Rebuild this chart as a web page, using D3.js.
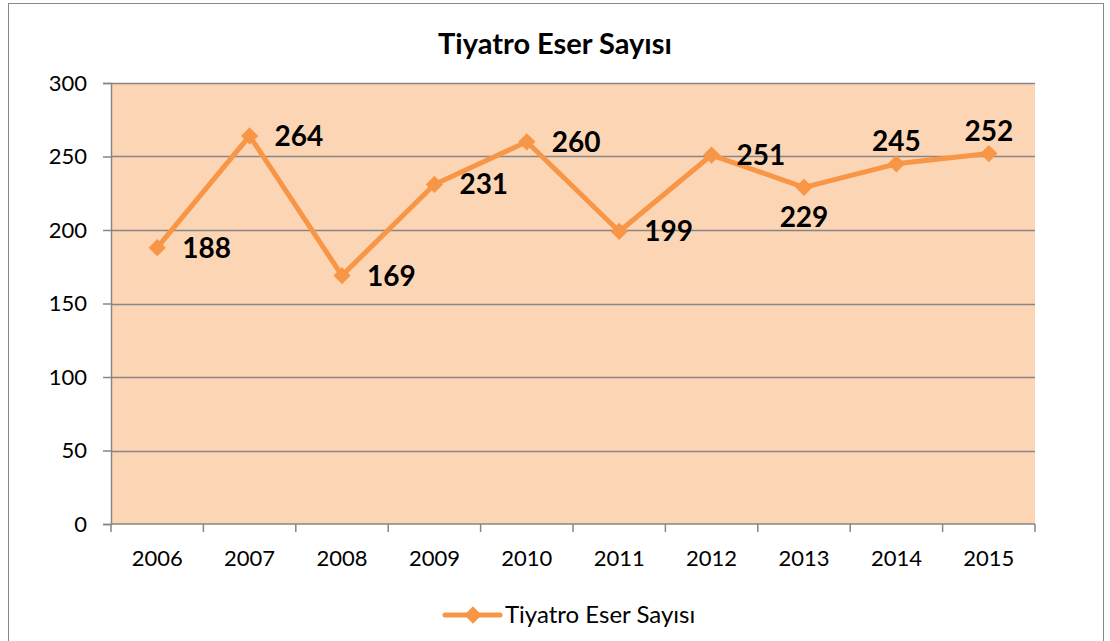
<!DOCTYPE html>
<html>
<head>
<meta charset="utf-8">
<script src="https://cdn.jsdelivr.net/npm/d3@7"></script>
<style>
  body { margin: 0; background: #fff; }
  text { font-family: Lato, "Noto Sans", sans-serif; }
</style>
</head>
<body>
<div id="chart"></div>
<script>
const WIDTH = 1110;
const HEIGHT = 641;

const title = "Tiyatro Eser Sayısı";
const years = ["2006", "2007", "2008", "2009", "2010", "2011", "2012", "2013", "2014", "2015"];
const counts = [188, 264, 169, 231, 260, 199, 251, 229, 245, 252];
// where each data label sits relative to its point
const labelSide = ["right", "right", "right", "right", "right", "right", "right", "below", "above", "above"];
const yTicks = [0, 50, 100, 150, 200, 250, 300];

const ORANGE = "#f79646";
const margin = {top: 83, right: 75, bottom: 117, left: 111};

let svg = d3.select("#chart").append("svg")
  .attr("width", WIDTH)
  .attr("height", HEIGHT);

// outer chart border
svg.append("rect")
  .attr("x", 8.5).attr("y", 3.5)
  .attr("width", 1095).attr("height", 660)
  .attr("fill", "#fff")
  .attr("stroke", "#888").attr("stroke-width", 1);

let innerW = WIDTH - margin.left - margin.right;
let innerH = HEIGHT - margin.top - margin.bottom;

let g = svg.append("g").attr("transform", `translate(${margin.left},${margin.top})`);

let x = d3.scaleBand().domain(years).range([0, innerW]);
let y = d3.scaleLinear().domain([0, 300]).range([innerH, 0]);

g.append("rect")
  .attr("width", innerW).attr("height", innerH)
  .attr("fill", "#fcd5b5");

// gridlines
g.append("g")
  .selectAll("line")
  .data(yTicks.filter(d => d > 0))
  .enter().append("line")
  .attr("x1", 0).attr("x2", innerW)
  .attr("y1", d => Math.round(y(d)) + 0.5).attr("y2", d => Math.round(y(d)) + 0.5)
  .attr("stroke", "#868686").attr("stroke-width", 1.5);

// y axis
let yAxis = g.append("g")
  .call(d3.axisLeft(y).tickValues(yTicks).tickSize(8).tickPadding(16));
yAxis.select(".domain").attr("stroke", "#868686").attr("stroke-width", 1.5);
yAxis.selectAll(".tick line").attr("stroke", "#868686").attr("stroke-width", 1.5);
yAxis.selectAll("text").attr("font-size", 22).attr("fill", "#000")
  .style("font-family", "Lato, sans-serif");

// x axis with ticks on category boundaries
let xAxisG = g.append("g").attr("transform", `translate(0,${innerH})`);
xAxisG.append("line")
  .attr("x1", 0).attr("x2", innerW)
  .attr("stroke", "#868686").attr("stroke-width", 1.5);
xAxisG.selectAll("line.tk")
  .data(years.map(d => x(d)).concat([innerW]))
  .enter().append("line")
  .attr("class", "tk")
  .attr("x1", d => d).attr("x2", d => d)
  .attr("y1", 0).attr("y2", 8)
  .attr("stroke", "#868686").attr("stroke-width", 1.5);
xAxisG.selectAll("text")
  .data(years)
  .enter().append("text")
  .attr("x", d => x(d) + x.bandwidth() / 2)
  .attr("y", 42)
  .attr("text-anchor", "middle")
  .attr("font-size", 22)
  .text(d => d);

let pts = years.map((d, i) => ({year: d, value: counts[i], side: labelSide[i]}));
let cx = d => x(d.year) + x.bandwidth() / 2;

g.append("path")
  .datum(pts)
  .attr("fill", "none")
  .attr("stroke", ORANGE)
  .attr("stroke-width", 5)
  .attr("stroke-linejoin", "round")
  .attr("d", d3.line().x(cx).y(d => y(d.value)));

let diamond = d3.symbol().type(d3.symbolDiamond2).size(190);

g.append("g")
  .selectAll("path")
  .data(pts)
  .enter().append("path")
  .attr("d", diamond)
  .attr("transform", d => `translate(${cx(d)},${y(d.value)})`)
  .attr("fill", ORANGE);

g.append("g")
  .selectAll("text")
  .data(pts)
  .enter().append("text")
  .attr("x", d => d.side === "right" ? cx(d) + 25 : cx(d))
  .attr("y", d => d.side === "right" ? y(d.value) + 10 : d.side === "above" ? y(d.value) - 13 : y(d.value) + 40)
  .attr("text-anchor", d => d.side === "right" ? "start" : "middle")
  .attr("font-size", 28)
  .attr("font-weight", "bold")
  .text(d => d.value);

// title
svg.append("text")
  .attr("x", 555).attr("y", 54)
  .attr("text-anchor", "middle")
  .attr("font-size", 29)
  .attr("font-weight", "bold")
  .text(title);

// legend
let leg = svg.append("g").attr("transform", "translate(445,615)");
leg.append("line")
  .attr("x1", 0).attr("x2", 55)
  .attr("stroke", ORANGE).attr("stroke-width", 5).attr("stroke-linecap", "round");
leg.append("path")
  .attr("d", diamond)
  .attr("transform", "translate(28,0)")
  .attr("fill", ORANGE);
leg.append("text")
  .attr("x", 60).attr("y", 8)
  .attr("font-size", 24)
  .text(title);
</script>
</body>
</html>
